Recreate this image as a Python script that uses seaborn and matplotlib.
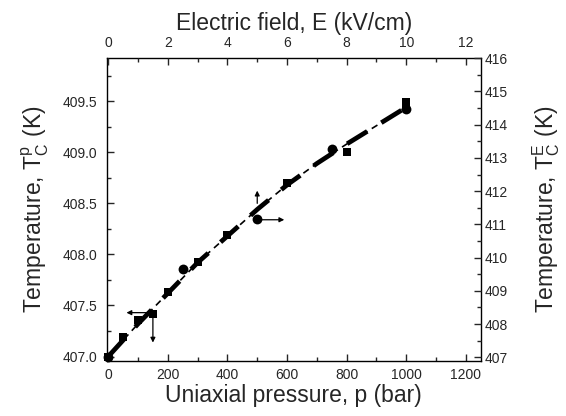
import matplotlib
matplotlib.use("Agg")
import matplotlib.pyplot as plt
import matplotlib.ticker as ticker
import seaborn as sns
import pandas as pd

# squares: uniaxial pressure (bar) vs T_C^p (K), left/bottom axes
pressure = [0, 50, 100, 150, 200, 300, 400, 600, 800, 1000, 1000]
temp_p = [407.0, 407.19, 407.36, 407.42, 407.63, 407.93, 408.19, 408.70, 409.00, 409.49, 409.45]

# circles: electric field (kV/cm) vs T_C^E (K), right/top axes
field = [0, 2.5, 5, 7.5, 10]
temp_e = [407.0, 409.65, 411.15, 413.27, 414.48]

# fitted curve, pressure scale
fit_p = [0, 100, 200, 300, 400, 500, 600, 700, 800, 900, 1000]
fit_t = [407.0, 407.32, 407.62, 407.92, 408.18, 408.44, 408.68, 408.89, 409.08, 409.26, 409.44]

sns.set_style("ticks")
plt.rcParams["font.family"] = ["Liberation Sans", "DejaVu Sans"]
plt.rcParams["mathtext.fontset"] = "custom"
plt.rcParams["mathtext.rm"] = "Liberation Sans"
plt.rcParams["mathtext.it"] = "Liberation Sans"

fig = plt.figure(figsize=(5.66, 4.16), dpi=100)
pos = [0.1885, 0.133, 0.661, 0.727]
ax = fig.add_axes(pos)
ax2 = fig.add_axes(pos, frameon=False)

df_p = pd.DataFrame({"p": pressure, "T": temp_p})
df_fit = pd.DataFrame({"p": fit_p, "T": fit_t})
df_e = pd.DataFrame({"E": field, "T": temp_e})

# two overlapping dashed fits
sns.lineplot(data=df_fit, x="p", y="T", ax=ax, color="black", lw=3.4, zorder=2)
ax.lines[-1].set_dashes([5, 3.5])
sns.lineplot(data=df_fit, x="p", y="T", ax=ax, color="black", lw=1.2, zorder=2)
ax.lines[-1].set_dashes([4, 3])

sns.scatterplot(data=df_p, x="p", y="T", ax=ax, marker="s", s=40,
                color="black", edgecolor="black", linewidth=0, zorder=3,
                clip_on=False)
sns.scatterplot(data=df_e, x="E", y="T", ax=ax2, marker="o", s=50,
                color="black", edgecolor="black", linewidth=0, zorder=3,
                clip_on=False)

ax.set_xlim(-5, 1250)
ax.set_ylim(406.96, 409.92)
ax2.set_xlim(-0.05, 12.5)
ax2.set_ylim(406.9, 416)

ax.xaxis.set_major_locator(ticker.MultipleLocator(200))
ax.xaxis.set_minor_locator(ticker.MultipleLocator(100))
ax.yaxis.set_major_locator(ticker.MultipleLocator(0.5))
ax.yaxis.set_minor_locator(ticker.MultipleLocator(0.25))
ax.yaxis.set_major_formatter(ticker.FormatStrFormatter("%.1f"))

ax2.xaxis.tick_top()
ax2.xaxis.set_label_position("top")
ax2.yaxis.tick_right()
ax2.yaxis.set_label_position("right")
ax2.xaxis.set_major_locator(ticker.MultipleLocator(2))
ax2.xaxis.set_minor_locator(ticker.MultipleLocator(1))
ax2.yaxis.set_major_locator(ticker.MultipleLocator(1))
ax2.yaxis.set_minor_locator(ticker.MultipleLocator(0.5))

for a in (ax, ax2):
    a.tick_params(which="major", direction="in", length=5, width=1, labelsize=10)
    a.tick_params(which="minor", direction="in", length=3, width=1)
ax.tick_params(axis="y", which="major", pad=7)
ax.tick_params(axis="x", which="major", pad=5)
ax2.tick_params(axis="y", which="major", pad=3)
ax2.tick_params(axis="x", which="major", pad=6)

for s in ax.spines.values():
    s.set_visible(True)
    s.set_linewidth(1)
    s.set_color("black")

ax.set_xlabel("Uniaxial pressure, p (bar)", fontsize=16.5, labelpad=2)
ax.set_ylabel(r"Temperature, T$_\mathregular{C}^\mathregular{p}$ (K)", fontsize=16.5, labelpad=8)
ax2.set_xlabel("Electric field, E (kV/cm)", fontsize=16.5, labelpad=4)
ax2.set_ylabel(r"Temperature, T$_\mathregular{C}^\mathregular{E}$ (K)", fontsize=16.5, labelpad=16)

# arrows marking which axis each data set belongs to
arrow = dict(arrowstyle="-|>", color="black", lw=0.9, mutation_scale=7)
ax.annotate("", xy=(52, 407.43), xytext=(150, 407.43), arrowprops=arrow)
ax.annotate("", xy=(150, 407.11), xytext=(150, 407.43), arrowprops=arrow)
ax2.annotate("", xy=(6.0, 411.14), xytext=(5.0, 411.14), arrowprops=arrow)
ax2.annotate("", xy=(5.0, 412.1), xytext=(5.0, 411.55), arrowprops=arrow)

fig.savefig("out.png", dpi=100)
